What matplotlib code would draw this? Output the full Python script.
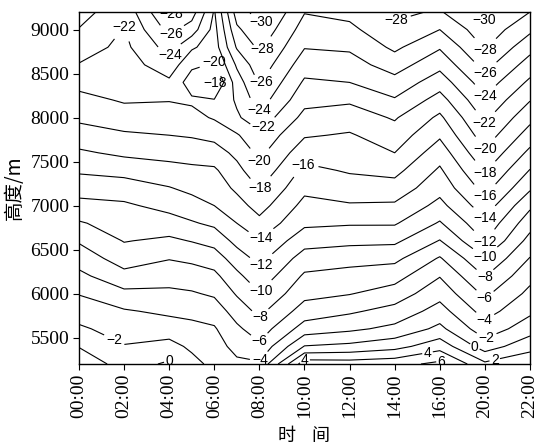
import matplotlib
matplotlib.use('Agg')
import matplotlib.pyplot as plt
import numpy as np

# observation times; the original axis is evenly spaced per printed label
# (16:00 is followed directly by 20:00), so times are kept as axis slots
time_labels = ['00:00', '02:00', '04:00', '06:00', '08:00', '10:00',
               '12:00', '14:00', '16:00', '20:00', '22:00']
obs_slot = [0, 1, 2, 2.5, 3, 3.5, 4, 5, 6, 7, 8, 9, 10]   # 05:00 and 07:00 included
heights = [5200, 5400, 5600, 5800, 6000, 6200, 6400, 6600, 6800, 7000, 7200,
           7400, 7600, 7800, 8000, 8200, 8400, 8600, 8800, 9000, 9200]

# temperature (deg C) profiles per time, bottom -> top
t00 = [1.5, -0.1, -1.7, -2.9, -4.1, -5.5, -6.9, -8.2, -9.8, -11.4, -12.8,
       -14.3, -15.7, -17.1, -18.4, -19.4, -20.6, -21.9, -22.9, -23.9, -24.9]
t02 = [-0.9, -1.9, -2.8, -3.8, -5.5, -7.4, -8.9, -10.1, -10.9, -11.7, -13.0,
       -14.7, -16.4, -17.7, -19.1, -20.2, -20.6, -21.0, -21.5, -21.9, -22.5]
t04 = [0.3, -1.3, -3.0, -4.4, -5.6, -6.8, -8.1, -9.6, -11.2, -12.6, -13.9,
       -15.3, -16.7, -18.0, -19.0, -20.1, -21.6, -23.2, -24.8, -26.6, -28.4]
t05 = [-1.3, -2.4, -3.4, -4.6, -5.8, -7.1, -8.4, -10.1, -11.8, -13.2, -14.5,
       -15.6, -16.8, -18.2, -19.4, -20.3, -19.0, -20.4, -22.3, -25.0, -27.0]
t06 = [-2.6, -3.2, -3.8, -4.9, -6.3, -7.5, -9.0, -10.7, -12.4, -14.0, -14.9,
       -15.7, -17.1, -18.6, -20.2, -20.1, -17.8, -19.8, -21.0, -21.3, -21.8]
t07 = [-3.6, -4.6, -5.6, -6.9, -8.2, -9.5, -11.0, -12.6, -14.0, -15.2, -16.4,
       -17.4, -18.5, -19.8, -21.7, -22.3, -23.0, -24.3, -26.2, -27.6, -29.0]
t08 = [-3.7, -5.6, -7.1, -8.5, -9.9, -11.3, -12.6, -13.9, -15.4, -16.8, -18.1,
       -19.4, -20.5, -21.5, -23.3, -25.0, -26.2, -27.3, -28.4, -29.6, -30.8]
t10 = [5.2, 0.1, -3.1, -5.1, -6.6, -7.7, -9.1, -10.8, -12.4, -13.4, -14.5,
       -15.5, -16.8, -18.2, -19.4, -20.6, -21.7, -22.9, -24.1, -25.1, -26.1]
t12 = [5.0, 0.5, -2.4, -4.3, -6.1, -7.3, -8.7, -10.5, -12.2, -13.8, -15.1,
       -16.2, -17.0, -17.8, -19.0, -20.3, -22.0, -23.2, -24.3, -25.5, -26.6]
t14 = [5.3, 1.3, -1.5, -3.3, -5.1, -6.8, -8.5, -10.4, -12.2, -13.7, -15.2,
       -16.6, -18.0, -19.1, -20.2, -21.8, -23.3, -24.9, -26.4, -27.6, -28.4]
t16 = [6.5, 3.2, 0.5, -1.2, -2.7, -4.1, -5.8, -7.9, -9.8, -11.4, -12.7,
       -13.7, -14.9, -16.3, -17.6, -19.2, -20.9, -22.6, -24.2, -26.0, -27.8]
t20 = [2.4, -1.0, -3.2, -4.8, -6.4, -8.1, -9.9, -12.1, -13.5, -15.1, -16.7,
       -18.2, -19.7, -21.1, -22.4, -23.7, -25.1, -26.7, -28.2, -29.3, -30.6]
t22 = [3.5, 1.3, -0.9, -2.4, -3.5, -4.6, -5.9, -7.3, -8.8, -10.4, -12.3,
       -13.9, -15.5, -17.1, -18.6, -20.1, -21.6, -23.1, -24.7, -26.4, -28.0]

levels = list(range(-30, 8, 2))

temp = np.column_stack([t00, t02, t04, t05, t06, t07, t08, t10, t12, t14, t16, t20, t22])
X, Y = np.meshgrid(obs_slot, heights)

fig = plt.figure(figsize=(5.38, 4.48), dpi=100)
ax = fig.add_axes([0.1468, 0.1875, 0.8383, 0.7857])

cs = ax.contour(X, Y, temp, levels=levels, colors='black',
                linewidths=0.8, linestyles='solid')

# label spots, roughly where the original put them
label_pos = [(1.06, 9057), (2.06, 9170), (2.06, 8932), (2.06, 8693),
             (3.06, 8660), (3.0, 8400), (4.17, 9045), (4.17, 8739),
             (4.17, 8364), (4.06, 8034), (4.06, 7898), (4.06, 7489),
             (4.06, 7182), (4.9, 7500), (4.06, 6614), (4.06, 6319),
             (4.06, 6012), (4.06, 5717), (4.06, 5433), (4.06, 5228),
             (5.0, 5250), (7.05, 9057), (9.0, 9114), (9.0, 8773),
             (9.0, 8511), (9.0, 8239), (9.0, 7943), (9.0, 7637),
             (9.0, 7375), (9.0, 7114), (9.0, 6864), (9.0, 6580),
             (9.0, 6421), (9.0, 6183), (9.0, 5955), (9.0, 5706),
             (9.05, 5470), (8.78, 5400), (9.22, 5245), (8.05, 5235),
             (7.72, 5352), (0.73, 5420), (2.02, 5250)]

labels = ax.clabel(cs, manual=label_pos, inline=True, inline_spacing=1,
                   fontsize=10,
                   fmt=lambda v: f'{v:.0f}'.replace('-', '\u2212'))
for t in labels:
    t.set_rotation(0)
    t.set_fontfamily('Liberation Sans')

ax.set_xlim(0, 10)
ax.set_ylim(5200, 9200)
ax.set_xticks(range(len(time_labels)))
ax.set_xticklabels(time_labels, rotation=90, fontfamily='Liberation Serif', fontsize=14)
ax.set_yticks([5500, 6000, 6500, 7000, 7500, 8000, 8500, 9000])
for lab in ax.get_yticklabels():
    lab.set_fontfamily('Liberation Serif')
    lab.set_fontsize(14)
ax.tick_params(direction='out', length=4, width=0.8, pad=3)

ax.set_ylabel('高度/m', fontfamily=['Noto Sans CJK SC', 'DejaVu Sans'], fontsize=14, labelpad=4)
ax.set_xlabel('时    间', fontfamily=['Noto Sans CJK SC', 'DejaVu Sans'], fontsize=13, labelpad=6)

for s in ax.spines.values():
    s.set_linewidth(1.0)

fig.savefig('out.png', dpi=100)
